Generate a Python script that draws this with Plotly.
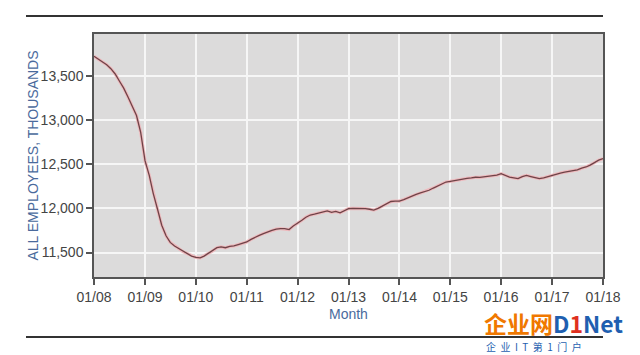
import plotly.graph_objects as go
import pandas as pd

# Monthly employment, thousands (Jan 2008 - Jan 2018)
dates = pd.date_range("2008-01-01", "2018-01-01", freq="MS").strftime("%Y-%m-%d").tolist()
employees = [
    13720, 13690, 13660, 13625, 13580, 13520, 13440, 13360, 13260, 13150, 13050, 12860,  # 2008
    12540, 12370, 12170, 11990, 11810, 11690, 11615, 11575, 11545, 11510, 11485, 11460,  # 2009
    11445, 11440, 11460, 11490, 11520, 11555, 11565, 11555, 11570, 11575, 11590, 11605,  # 2010
    11620, 11650, 11675, 11695, 11715, 11735, 11752, 11765, 11772, 11770, 11760, 11800,  # 2011
    11830, 11865, 11900, 11925, 11935, 11950, 11960, 11972, 11955, 11965, 11950, 11975,  # 2012
    11997, 12000, 12000, 11998, 11997, 11990, 11980, 12000, 12025, 12050, 12078, 12083,  # 2013
    12083, 12100, 12120, 12140, 12158, 12175, 12190, 12205, 12230, 12255, 12280, 12298,  # 2014
    12305, 12315, 12325, 12330, 12340, 12345, 12352, 12350, 12356, 12360, 12362, 12375,  # 2015
    12393, 12370, 12354, 12345, 12336, 12360, 12373, 12360, 12345, 12336, 12345, 12360,  # 2016
    12373, 12385, 12400, 12410, 12420, 12428, 12435, 12455, 12468, 12490, 12520, 12545,  # 2017
    12562,  # 2018
]
y_ticks = [11500, 12000, 12500, 13000, 13500]
x_ticks = [f"{y}-01-01" for y in range(2008, 2019)]
x_tick_labels = [f"01/{str(y)[2:]}" for y in range(2008, 2019)]

fig = go.Figure()
fig.add_trace(go.Scatter(x=dates, y=employees, mode="lines",
                         line=dict(color="#eeb9bd", width=3.2), hoverinfo="skip"))
fig.add_trace(go.Scatter(x=dates, y=employees, mode="lines",
                         line=dict(color="#6e4347", width=1.3)))

axis_font = dict(family="Liberation Sans, Arial, sans-serif", size=14, color="#444444")
fig.update_layout(
    width=640, height=355,
    margin=dict(l=94, r=37, t=34, b=78),
    paper_bgcolor="white",
    plot_bgcolor="#dcdbdb",
    showlegend=False,
    xaxis=dict(
        type="date", range=["2008-01-01", "2018-01-01"],
        tickmode="array", tickvals=x_ticks, ticktext=x_tick_labels,
        ticks="outside", ticklen=6, tickcolor="#555555", tickwidth=1.5,
        showgrid=True, gridcolor="#f6f6f6", gridwidth=2,
        showline=True, linecolor="#555555", linewidth=1.5, mirror=True,
        tickfont=axis_font, zeroline=False,
    ),
    yaxis=dict(
        range=[11224, 13972],
        tickmode="array", tickvals=y_ticks,
        ticktext=[f"{v:,}" for v in y_ticks],
        ticks="outside", ticklen=6, tickcolor="#555555", tickwidth=1.5,
        showgrid=True, gridcolor="#f6f6f6", gridwidth=2,
        showline=True, linecolor="#555555", linewidth=1.5, mirror=True,
        tickfont=axis_font, zeroline=False,
    ),
    shapes=[
        dict(type="line", xref="paper", yref="paper", x0=-0.1336, x1=1.0,
             y0=1.074, y1=1.074, line=dict(color="#333333", width=2)),
        dict(type="line", xref="paper", yref="paper", x0=-0.1336, x1=1.0,
             y0=-0.247, y1=-0.247, line=dict(color="#333333", width=2)),
    ],
    annotations=[
        dict(text="ALL EMPLOYEES, THOUSANDS", xref="paper", yref="paper",
             x=-0.1218, y=0.5, textangle=-90, showarrow=False,
             xanchor="center", yanchor="middle",
             font=dict(family="Liberation Sans, Arial, sans-serif", size=14, color="#4a6a9c")),
        dict(text="Month", xref="paper", yref="paper",
             x=0.5, y=-0.152, showarrow=False, xanchor="center", yanchor="middle",
             font=dict(family="Liberation Sans, Arial, sans-serif", size=14, color="#4a6a9c")),
        dict(text="<b><span style='color:#f07800'>企业网</span><span style='color:#1f5fb0'>D</span>"
                  "<span style='color:#e03020'>1</span><span style='color:#1f5fb0'>Net</span></b>",
             xref="paper", yref="paper", x=(482 - 94) / 509, y=(277 - 323) / 243,
             showarrow=False, xanchor="left", yanchor="middle",
             font=dict(family="Noto Sans CJK SC, sans-serif", size=23)),
        dict(text="企  业  I  T  第  1  门  户", xref="paper", yref="paper",
             x=(484 - 94) / 509, y=(277 - 346) / 243,
             showarrow=False, xanchor="left", yanchor="middle",
             font=dict(family="Noto Sans CJK SC, sans-serif", size=10, color="#1f5fb0")),
    ],
)

fig.write_html("out.html")
